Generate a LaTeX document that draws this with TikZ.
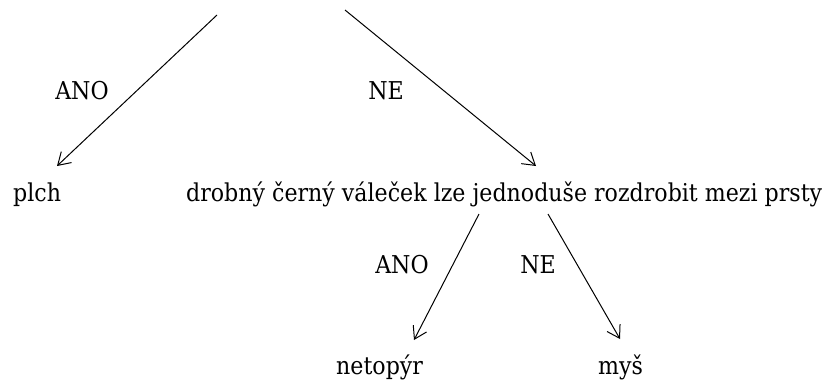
\documentclass[tikz,border=0pt]{standalone}
\usepackage{fontspec}
\setmainfont[FakeStretch=0.9]{DejaVu Serif}
\usetikzlibrary{arrows.meta}
\newlength\refw
\begin{document}
\settowidth\refw{\fontsize{10pt}{12pt}\selectfont drobný černý váleček lze jednoduše rozdrobit mezi prsty}
\pgfmathsetmacro\fs{10*636/\refw}
\begin{tikzpicture}[x=1pt,y=1pt,
  txt/.style={inner sep=0pt,anchor=base west,font=\fontsize{\fs pt}{\fs pt}\selectfont},
  lab/.style={inner sep=0pt,anchor=center,font=\fontsize{\fs pt}{\fs pt}\selectfont},
  edge/.style={line width=1pt,-{Straight Barb[length=12pt,width=15pt,line width=1pt]}}]
\useasboundingbox (0,0) rectangle (829,-381);
% text nodes
\node[txt] (plch) at (13,-201) {plch};
\node[txt] (drob) at (186,-201) {drobný černý váleček lze jednoduše rozdrobit mezi prsty};
\node[txt] (neto) at (336,-374) {netopýr};
\node[txt] (mys) at (598,-374) {myš};
% labels
\node[lab] (ano1) at (82,-91) {ANO};
\node[lab] (ne1) at (386,-91) {NE};
\node[lab] (ano2) at (402,-265) {ANO};
\node[lab] (ne2) at (538,-265) {NE};
% connector ends
\coordinate (rootL) at (217,-15);
\coordinate (rootR) at (345,-10);
\coordinate (plchIn) at (57,-166);
\coordinate (drobIn) at (536,-166);
\coordinate (drobL) at (479,-214);
\coordinate (drobR) at (548,-214);
\coordinate (netoIn) at (414,-340);
\coordinate (mysIn) at (620,-339);
\draw[edge] (rootL) -- (plchIn);
\draw[edge] (rootR) -- (drobIn);
\draw[edge] (drobL) -- (netoIn);
\draw[edge] (drobR) -- (mysIn);
\end{tikzpicture}
\end{document}
